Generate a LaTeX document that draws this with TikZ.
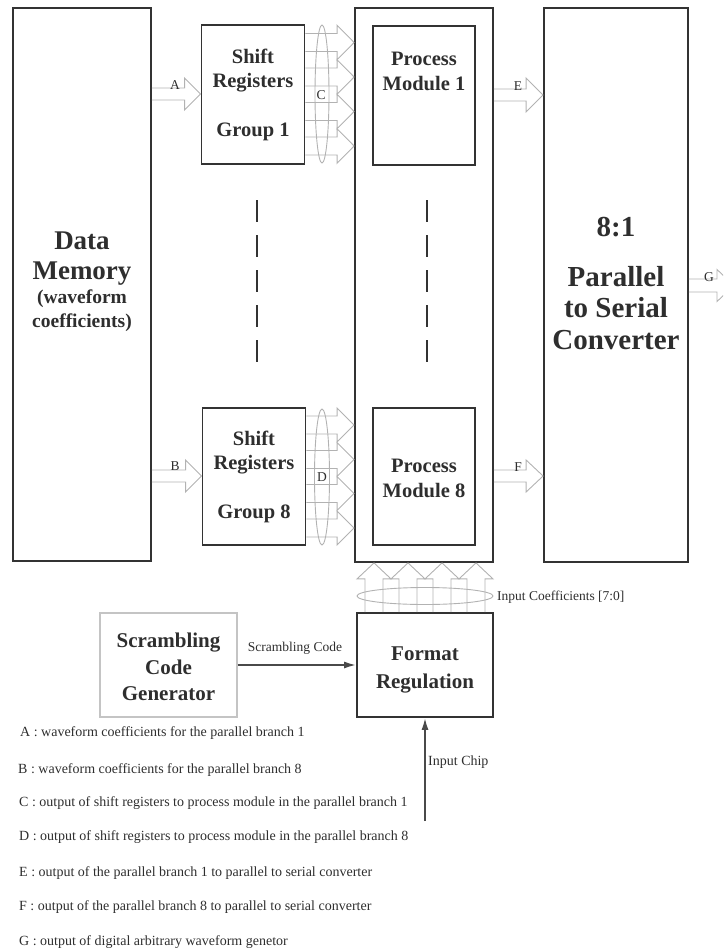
\documentclass[tikz,border=0pt]{standalone}
\usepackage{fontspec}
\setmainfont{Liberation Serif}
\usetikzlibrary{calc,arrows.meta}

\definecolor{frame}{HTML}{333333}
\definecolor{busline}{HTML}{B2B2B2}
\definecolor{ink}{HTML}{2E2E2E}
\definecolor{softframe}{HTML}{C4C4C4}
\definecolor{wire}{HTML}{4A4A4A}

% hollow bus arrow pointing right: start, tip, shaft half-height, head half-height, head length
\newcommand{\busright}[5]{%
  \draw[bus] let \p1=#1, \p2=#2 in
    (\x1,\y2+#3pt) -- (\x2-#5pt,\y2+#3pt) -- (\x2-#5pt,\y2+#4pt) -- (\p2)
    -- (\x2-#5pt,\y2-#4pt) -- (\x2-#5pt,\y2-#3pt) -- (\x1,\y2-#3pt);}
% hollow bus arrow pointing up: start, tip, shaft half-width, head half-width, head length
\newcommand{\busup}[5]{%
  \draw[bus] let \p1=#1, \p2=#2 in
    (\x2-#3pt,\y1) -- (\x2-#3pt,\y2-#5pt) -- (\x2-#4pt,\y2-#5pt) -- (\p2)
    -- (\x2+#4pt,\y2-#5pt) -- (\x2+#3pt,\y2-#5pt) -- (\x2+#3pt,\y1);}

\tikzset{
  box/.style={draw=frame, line width=1.8pt, fill=none, inner sep=0pt},
  softbox/.style={draw=softframe, line width=1.1pt, inner sep=0pt},
  bus/.style={draw=busline, line width=0.9pt},
  busring/.style={draw=busline, line width=0.9pt},
  dots/.style={draw=frame, line width=2.6pt, dash pattern=on 22pt off 13pt},
  sig/.style={draw=wire, line width=1.8pt, -{Latex[length=12pt,width=7pt]}},
  title/.style={text=ink, align=center, inner sep=0pt},
  lbl/.style={text=ink, inner sep=0pt, font=\fontsize{13.5}{16}\selectfont},
  legend/.style={text=ink, inner sep=0pt, anchor=west, font=\fontsize{14}{16}\selectfont},
}

\begin{document}
\begin{tikzpicture}[x=1pt,y=-1pt]
\useasboundingbox (0,0) rectangle (723,950);
\clip (0,0) rectangle (723,950);

% ---- blocks
\node[box, minimum width=138, minimum height=553] (mem) at (82,284.5) {};
\node[box, minimum width=103, minimum height=139] (sr1) at (253,94.5) {};
\node[box, minimum width=103, minimum height=137] (sr8) at (254,476.5) {};
\node[box, minimum width=138, minimum height=554] (big) at (424,285) {};
\node[box, minimum width=102, minimum height=139] (pm1) at (424,95.5) {};
\node[box, minimum width=102, minimum height=137] (pm8) at (424,476.5) {};
\node[box, minimum width=144, minimum height=554] (conv) at (616,285) {};
\node[softbox, minimum width=137, minimum height=104] (scg) at (168.5,665) {};
\node[box, minimum width=136, minimum height=104] (fmt) at (425,665) {};

% ---- block texts
\node[title, font=\bfseries\fontsize{27}{30}\selectfont] (memname) at (82,259) {Data\\Memory};
\node[title, font=\bfseries\fontsize{19.5}{24}\selectfont] (memnote) at (82,311) {(waveform\\coefficients)};
\node[title, font=\bfseries\fontsize{20.5}{24}\selectfont] (sr1name) at (253,71) {Shift\\Registers};
\node[title, font=\bfseries\fontsize{20.5}{24}\selectfont] (sr1grp) at (253,132) {Group 1};
\node[title, font=\bfseries\fontsize{20.5}{24}\selectfont] (sr8name) at (254,453) {Shift\\Registers};
\node[title, font=\bfseries\fontsize{20.5}{24}\selectfont] (sr8grp) at (254,514) {Group 8};
\node[title, font=\bfseries\fontsize{20.5}{25}\selectfont] (pm1name) at (424,71) {Process\\Module 1};
\node[title, font=\bfseries\fontsize{20.5}{25}\selectfont] (pm8name) at (424,478) {Process\\Module 8};
\node[title, font=\bfseries\fontsize{29}{32}\selectfont] (convratio) at (616,227) {8:1};
\node[title, font=\bfseries\fontsize{29}{31.5}\selectfont] (convname) at (616,308) {Parallel\\to Serial\\Converter};
\node[title, font=\bfseries\fontsize{21}{26.5}\selectfont] (scgname) at (168.5,667) {Scrambling\\Code\\Generator};
\node[title, font=\bfseries\fontsize{21}{28}\selectfont] (fmtname) at (425,670) {Format\\Regulation};

% ---- omitted branches
\draw[dots] (257,200) -- (257,372);
\draw[dots] (427,200) -- (427,372);

% ---- buses A, B
\busright{(mem.east|-0,94)}{(sr1.west|-0,94)}{6}{16}{16}
\busright{(mem.east|-0,476)}{(sr8.west|-0,476)}{6}{16}{16}
\node[lbl] (labA) at (175,85) {A};
\node[lbl] (labB) at (175,466) {B};

% ---- buses C, D
\foreach \yy in {42.5,77,111.5,146}{
  \busright{(sr1.east|-0,\yy)}{(big.west|-0,\yy)}{9}{17.25}{17}
}
\foreach \yy in {425,459.5,493.5,528}{
  \busright{(sr8.east|-0,\yy)}{(big.west|-0,\yy)}{9}{17}{17}
}
\draw[busring] (322,94) ellipse [x radius=7, y radius=69];
\draw[busring] (322,477) ellipse [x radius=7.5, y radius=68];
\node[lbl] (labC) at (321,95) {C};
\node[lbl] (labD) at (322,477) {D};

% ---- buses E, F, G
\busright{(big.east|-0,95)}{(conv.west|-0,95)}{6}{17}{17}
\busright{(big.east|-0,476)}{(conv.west|-0,476)}{6}{16}{17}
\busright{(conv.east|-0,285.5)}{(734,285.5)}{6.5}{16}{17}
\node[lbl] (labE) at (518,86) {E};
\node[lbl] (labF) at (518,467) {F};
\node[lbl] (labG) at (709,277) {G};

% ---- input coefficient bus
\foreach \xx in {374,408,442,476}{
  \busup{(\xx,0|-fmt.north)}{(\xx,0|-big.south)}{9}{17}{16}
}
\draw[busring] (425,596) ellipse [x radius=68, y radius=8.5];
\node[lbl, anchor=west] (labcoef) at (497,597) {Input Coefficients [7:0]};

% ---- control signals
\draw[sig] (scg.east) -- (fmt.west);
\node[lbl] (labscr) at (295,648) {Scrambling Code};
\coordinate (chipin) at (425,821);
\draw[sig] (chipin) -- (chipin|-fmt.south);
\node[lbl, anchor=west, font=\fontsize{14}{16}\selectfont] (labchip) at (428,762) {Input Chip};

% ---- legend
\node[legend] (legA) at (20,733) {A : waveform coefficients for the parallel branch 1};
\node[legend] (legB) at (18,770) {B : waveform coefficients for the parallel branch 8};
\node[legend] (legC) at (19,803) {C : output of shift registers to process module in the parallel branch 1};
\node[legend] (legD) at (19,837) {D : output of shift registers to process module in the parallel branch 8};
\node[legend] (legE) at (19,873) {E : output of the parallel branch 1 to parallel to serial converter};
\node[legend] (legF) at (19,907) {F : output of the parallel branch 8 to parallel to serial converter};
\node[legend] (legG) at (19,942) {G : output of digital arbitrary waveform genetor};
\end{tikzpicture}
\end{document}
